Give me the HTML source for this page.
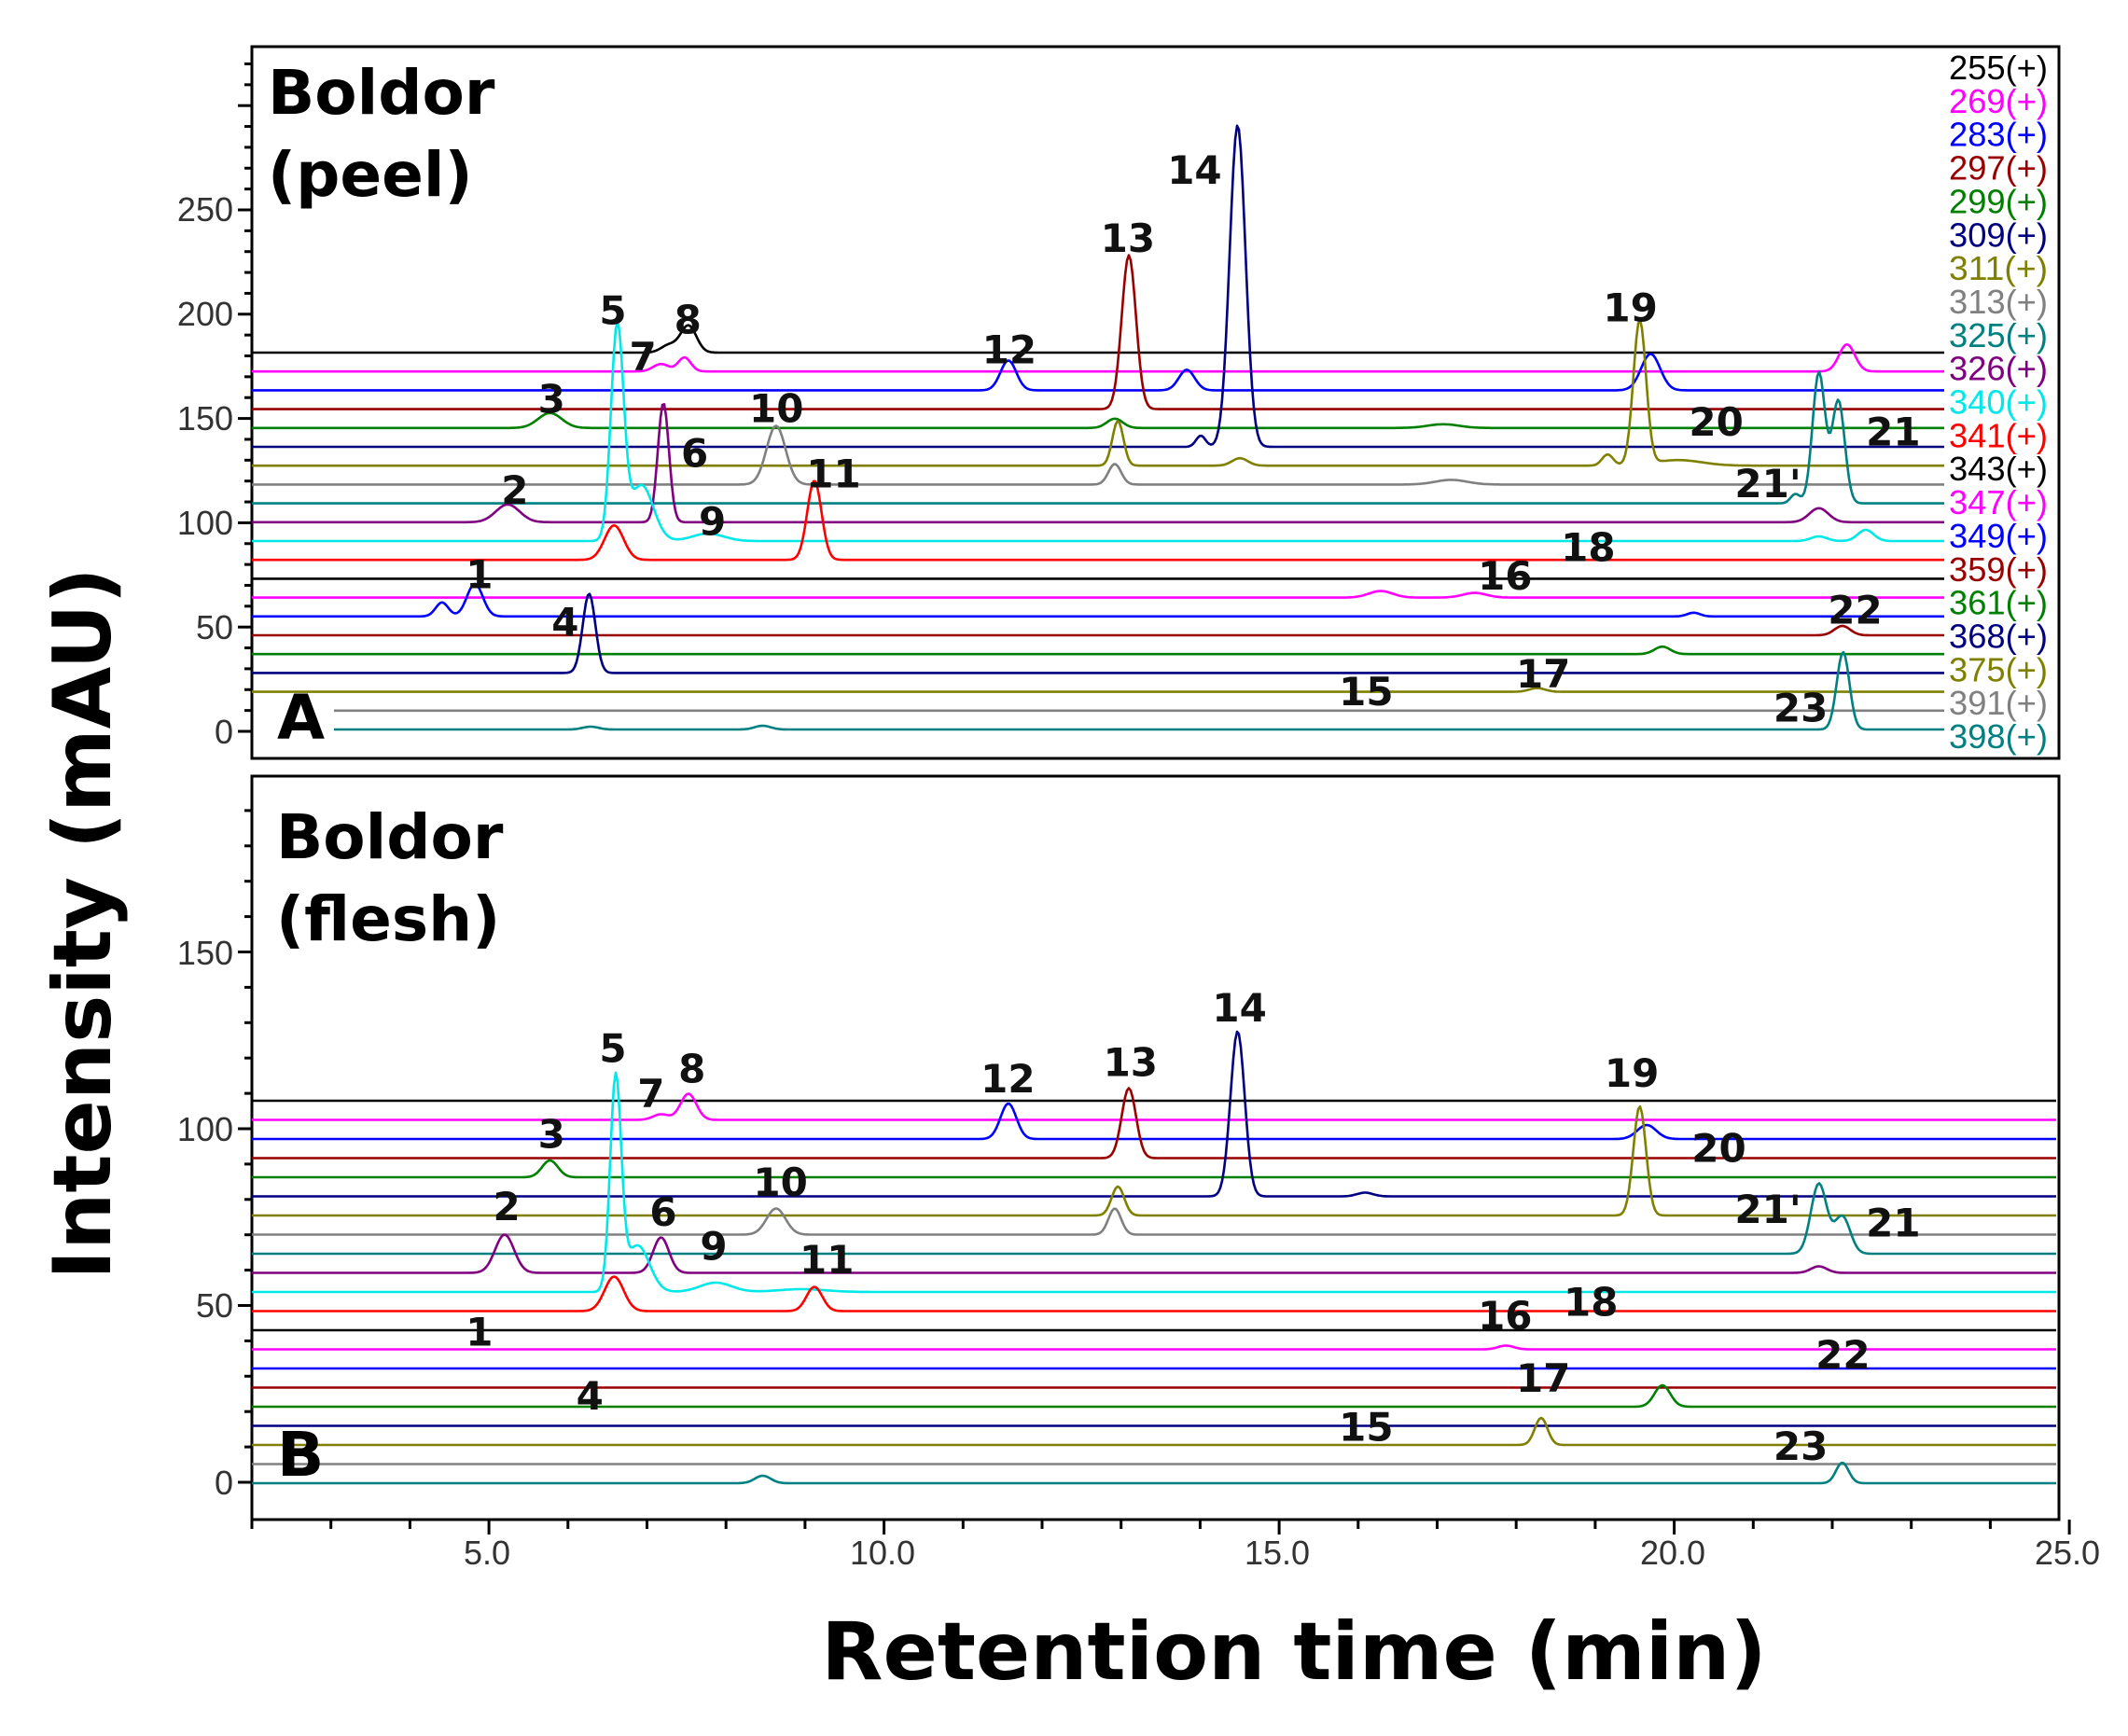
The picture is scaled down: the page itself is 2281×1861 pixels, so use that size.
<!DOCTYPE html>
<html><head><meta charset="utf-8"><style>
html,body{margin:0;padding:0;background:#fff;}
svg{display:block;}
.t{font-family:"DejaVu Sans",sans-serif;font-weight:bold;font-size:42px;fill:#111;}
.tk{font-family:"Liberation Sans",sans-serif;font-size:36px;fill:#333;}
.lg{font-family:"Liberation Sans Narrow","Liberation Sans",sans-serif;font-size:36px;}
</style></head><body>
<svg id="s" width="2281" height="1861" viewBox="0 0 2281 1861" xmlns="http://www.w3.org/2000/svg">
<rect x="270" y="50" width="1937" height="763" fill="none" stroke="#000" stroke-width="3"/>
<rect x="270" y="832" width="1937" height="797" fill="none" stroke="#000" stroke-width="3"/>
<g id="ticks" stroke="#000" stroke-width="3"></g>
<g id="traces" fill="none" stroke-width="2.6" stroke-linejoin="round"></g>
<g class="tk" text-anchor="end">
<text x="250" y="797">0</text><text x="250" y="685">50</text><text x="250" y="573">100</text>
<text x="250" y="461">150</text><text x="250" y="349">200</text><text x="250" y="237">250</text>
<text x="250" y="1602">0</text><text x="250" y="1412">50</text><text x="250" y="1223">100</text><text x="250" y="1034">150</text>
</g>
<g class="tk" text-anchor="middle">
<text x="522" y="1677">5.0</text><text x="946" y="1677">10.0</text><text x="1369" y="1677">15.0</text>
<text x="1793" y="1677">20.0</text><text x="2216" y="1677">25.0</text>
</g>
<text x="1387" y="1800" text-anchor="middle" style="font-family:'DejaVu Sans',sans-serif;font-weight:bold;font-size:86px">Retention time (min)</text>
<text transform="translate(118,990) rotate(-90)" text-anchor="middle" style="font-family:'DejaVu Sans',sans-serif;font-weight:bold;font-size:86px">Intensity (mAU)</text>
<g style="font-family:'DejaVu Sans',sans-serif;font-weight:bold;font-size:66px">
<text x="287" y="122">Boldor</text><text x="287" y="210">(peel)</text>
<text x="296" y="920">Boldor</text><text x="296" y="1008">(flesh)</text>
<text x="297" y="792">A</text><text x="297" y="1582">B</text>
</g>
<g id="labels" class="t" text-anchor="middle" dominant-baseline="central"></g>
<g id="legend" class="lg"></g>
</svg>
<script>
var S=document.getElementById('s');
function el(n,a,p){var e=document.createElementNS('http://www.w3.org/2000/svg',n);for(var k in a)e.setAttribute(k,a[k]);p.appendChild(e);return e;}
var X=function(m){return 270+(m-2)*84.7;};
var tk=document.getElementById('ticks');
for(var v=0;v<=320;v+=10){var y=784-v*2.236;if(y<52)break;el('line',{x1:v%50==0?255:262,x2:270,y1:y,y2:y},tk);}
for(var v=0;v<=195;v+=10){var y=1589-v*3.79;if(y<834)break;el('line',{x1:v%50==0?255:262,x2:270,y1:y,y2:y},tk);}
for(var m=2;m<=25;m++){var x=X(m);el('line',{x1:x,x2:x,y1:1629,y2:m%5==0?1645:1639},tk);}
var cols={255:'#000',269:'#ff00ff',283:'#0000ff',297:'#990000',299:'#008000',309:'#000080',311:'#808000',313:'#808080',325:'#008080',326:'#800080',340:'#00e8e8',341:'#ff0000',343:'#000',347:'#ff00ff',349:'#0000ff',359:'#990000',361:'#008000',368:'#000080',375:'#808000',391:'#808080',398:'#008080'};
var keys=[255,269,283,297,299,309,311,313,325,326,340,341,343,347,349,359,361,368,375,391,398];
var A={
255:[[7.3,8,.1],[7.55,29,.1]],
269:[[7.2,8,.1],[7.5,15,.08],[22.36,29,.1]],
283:[[11.64,32,.1],[13.92,22,.1],[19.85,39,.12]],
297:[[13.18,165,.09]],
299:[[5.78,16,.15],[13.0,10,.1],[17.2,4,.2]],
309:[[14.1,12,.06],[14.57,345,.1]],
311:[[13.04,48,.07],[14.6,8,.1],[19.3,12,.07],[19.71,155,.08],[20.2,6,.3]],
313:[[8.67,63,.12],[13.0,22,.08],[17.3,5,.2]],
325:[[21.7,10,.06],[22.0,140,.08],[22.25,110,.08]],
326:[[5.24,19,.15],[7.23,128,.07],[22.0,15,.12]],
340:[[6.64,228,.08],[6.95,60,.15],[7.8,8,.2],[22.0,5,.1],[22.6,12,.1]],
341:[[6.6,37,.12],[9.16,85,.09]],
343:[],
347:[[16.4,7,.15],[17.6,5,.15]],
349:[[4.4,15,.08],[4.82,35,.1],[20.4,4,.08]],
359:[[22.3,10,.1]],
361:[[20.0,8,.1]],
368:[[6.28,85,.08]],
375:[[18.4,4,.1]],
391:[],
398:[[6.3,3,.1],[8.5,4,.1],[22.31,83,.08]]};
var B={
255:[],
269:[[7.2,6,.1],[7.55,28,.1]],
283:[[11.64,38,.1],[19.8,15,.12]],
297:[[13.18,75,.09]],
299:[[5.78,18,.1]],
309:[[14.57,177,.09],[16.2,4,.1]],
311:[[13.04,31,.08],[19.71,117,.08]],
313:[[8.67,28,.12],[13.0,28,.08]],
325:[[22.0,75,.1],[22.3,40,.1]],
326:[[5.2,41,.12],[7.2,38,.1],[22.0,7,.1]],
340:[[6.62,226,.07],[6.9,50,.15],[7.9,10,.2],[9.0,3,.3]],
341:[[6.6,37,.12],[9.16,26,.1]],
343:[],347:[[18.0,4,.1]],349:[],359:[],
361:[[20.0,23,.1]],368:[],
375:[[18.45,29,.08]],391:[],
398:[[8.5,8,.1],[22.3,22,.08]]};
var tr=document.getElementById('traces');
function draw(P,y0,dy,xEnd,startLow){
 keys.forEach(function(k,i){
  var base=y0+i*dy,pk=P[k]||[],d='';
  var xs=(startLow&&i>=19)?358:270;
  for(var x=xs;x<=xEnd;x+=2){var m=2+(x-270)/84.7,h=0;
   pk.forEach(function(p){var c=p[0]-(p[0]-5)*0.01;h+=p[1]*Math.exp(-Math.pow((m-c)/p[2],2)/2);});
   d+=(d?'L':'M')+x+' '+(base-h).toFixed(1);}
  el('path',{d:d,stroke:cols[k]},tr);
 });
}
draw(A,378,20.2,2085,true);
draw(B,1180,20.5,2205,false);
var lb=document.getElementById('labels');
var f=1.46;
var LA=[['1',352,422],['2',378,360],['3',405,293],['4',415,457],['5',450,228],['6',510,333],['7',472,262],['8',505,235],['9',523,383],['10',570,300],['11',612,348],['12',741,257],['13',828,175],['14',877,125],['15',1003,508],['16',1105,423],['17',1133,495],['18',1166,402],['19',1197,226],['20',1260,310],["21'",1298,355],['21',1390,317],['22',1362,448],['23',1322,520],
['1',352,978],['2',372,886],['3',405,833],['4',433,1025],['5',450,770],['6',487,890],['7',478,803],['8',508,785],['9',524,915],['10',573,868],['11',607,925],['12',740,792],['13',830,780],['14',910,740],['15',1003,1048],['16',1105,966],['17',1133,1012],['18',1168,956],['19',1198,788],['20',1262,843],["21'",1298,888],['21',1390,898],['22',1353,995],['23',1322,1062]];
LA.forEach(function(l){var t=el('text',{x:l[1]*f,y:l[2]*f},lb);t.textContent=l[0];});
var lg=document.getElementById('legend');
keys.forEach(function(k,i){var t=el('text',{x:2089,y:85+i*35.85,fill:cols[k],textLength:106,lengthAdjust:'spacingAndGlyphs'},lg);t.textContent=k+'(+)';});
</script>
</body></html>
